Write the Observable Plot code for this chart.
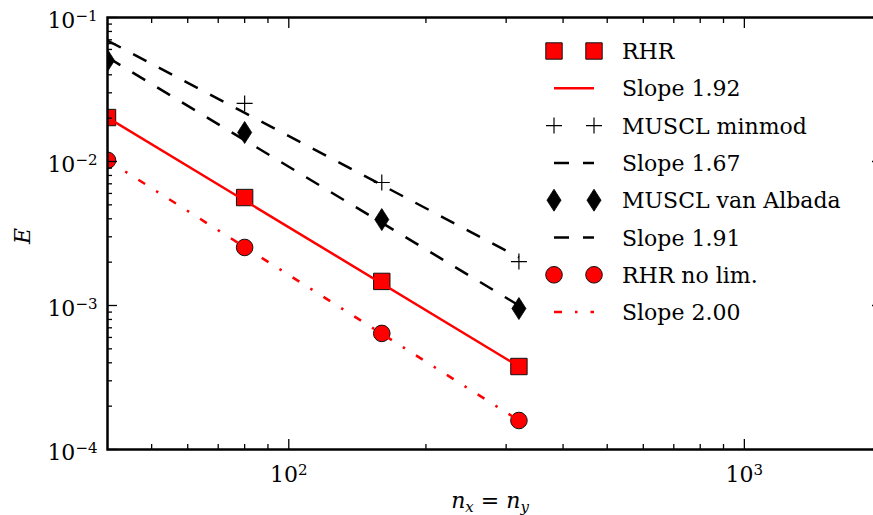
<!DOCTYPE html>
<html><head><meta charset="utf-8">
<script src="https://cdn.jsdelivr.net/npm/d3@7"></script>
<script src="https://cdn.jsdelivr.net/npm/@observablehq/plot@0.6"></script>
<style>body{margin:0;background:#fff}</style>
</head><body><div id="chart"></div>
<script>
// ---- data ----
const nx = [40, 80, 160, 320];
const rhr = [0.0202, 0.00562, 0.00147, 0.000377];
const minmod = [0.0659, 0.0253, 0.00715, 0.00202];
const vanAlbada = [0.0503, 0.0159, 0.00395, 0.000953];
const rhrNoLim = [0.0102, 0.00253, 0.00064, 0.000159];

const slopeX = [40, 320];
const slope192 = [0.0202, 0.000377];
const slope167 = [0.0692, 0.00216];
const slope191 = [0.0528, 0.00100];
const slope200 = [0.0102, 0.000159];

const xMajor = [100, 1000];
const xMajorExp = ["2", "3"];
const xMinor = [50, 60, 70, 80, 90, 200, 300, 400, 500, 600, 700, 800, 900, 2000];
const yMajor = [1e-4, 1e-3, 1e-2, 1e-1];
const yMajorExp = ["\u22124", "\u22123", "\u22122", "\u22121"];
const yMinor = [2e-4,3e-4,4e-4,5e-4,6e-4,7e-4,8e-4,9e-4,2e-3,3e-3,4e-3,5e-3,6e-3,7e-3,8e-3,9e-3,2e-2,3e-2,4e-2,5e-2,6e-2,7e-2,8e-2,9e-2];

const legendLabels = ["RHR","Slope 1.92","MUSCL minmod","Slope 1.67","MUSCL van Albada","Slope 1.91","RHR no lim.","Slope 2.00"];

// ---- symbols ----
const symSquare = {draw(c, s){ const r = Math.sqrt(s/Math.PI); c.rect(-r,-r,2*r,2*r); }};
const symCircle = {draw(c, s){ const r = Math.sqrt(s/Math.PI); c.moveTo(r,0); c.arc(0,0,r,0,2*Math.PI); }};
const symDiamond = {draw(c, s){ const r = Math.sqrt(s/Math.PI); const w = r*0.64; c.moveTo(0,-r); c.lineTo(w,0); c.lineTo(0,r); c.lineTo(-w,0); c.closePath(); }};
const symPlus = {draw(c, s){ const r = Math.sqrt(s/Math.PI); c.moveTo(-r,0); c.lineTo(r,0); c.moveTo(0,-r); c.lineTo(0,r); }};

const pts = (ys) => nx.map((x,i) => ({x, y: ys[i]}));
const seg = (ys) => slopeX.map((x,i) => ({x, y: ys[i]}));

const dash = "15,14";
const dashDot = "8,13,2.5,13";

const styles = [
  {kind:"m", sym:symSquare, r:8.2, fill:"#ff0000", stroke:"#111", sw:1},
  {kind:"l", stroke:"#ff0000", dash:null},
  {kind:"m", sym:symPlus, r:8, fill:"none", stroke:"#000", sw:1.2},
  {kind:"l", stroke:"#000", dash:dash},
  {kind:"m", sym:symDiamond, r:11, fill:"#000", stroke:"#000", sw:0.8},
  {kind:"l", stroke:"#000", dash:dash},
  {kind:"m", sym:symCircle, r:8.3, fill:"#ff0000", stroke:"#111", sw:1},
  {kind:"l", stroke:"#ff0000", dash:dashDot}
];

const dotMark = (data, st) => Plot.dot(data, {x:"x", y:"y", symbol: st.sym, r: st.r, fill: st.fill, stroke: st.stroke, strokeWidth: st.sw, clip: true});
const lineMark = (data, st) => Plot.line(data, {x:"x", y:"y", stroke: st.stroke, strokeWidth: 2.5, strokeDasharray: st.dash ?? undefined, strokeLinecap: "butt", clip: true});

const fontFamily = "DejaVu Serif";

const chart = Plot.plot({
  width: 873,
  height: 515,
  marginLeft: 107,
  marginRight: -8,
  marginTop: 17,
  marginBottom: 66,
  style: {fontSize: "22px", fontFamily: fontFamily, background: "#fff", color: "#000", overflow: "hidden"},
  x: {type: "log", domain: [40, 2000]},
  y: {type: "log", domain: [1e-4, 1e-1]},
  marks: [
    dotMark(pts(rhr), styles[0]),
    lineMark(seg(slope192), styles[1]),
    dotMark(pts(minmod), styles[2]),
    lineMark(seg(slope167), styles[3]),
    dotMark(pts(vanAlbada), styles[4]),
    lineMark(seg(slope191), styles[5]),
    dotMark(pts(rhrNoLim), styles[6]),
    lineMark(seg(slope200), styles[7]),
    // inward ticks
    Plot.axisX(xMajor, {anchor: "bottom", tickSize: -10, fill: "none", strokeWidth: 1.3}),
    Plot.axisX(xMinor, {anchor: "bottom", tickSize: -5, fill: "none", strokeWidth: 1.3}),
    Plot.axisX(xMajor, {anchor: "top", tickSize: -10, fill: "none", strokeWidth: 1.3}),
    Plot.axisX(xMinor, {anchor: "top", tickSize: -5, fill: "none", strokeWidth: 1.3}),
    Plot.axisY(yMajor, {anchor: "left", tickSize: -10, fill: "none", strokeWidth: 1.3}),
    Plot.axisY(yMinor, {anchor: "left", tickSize: -5, fill: "none", strokeWidth: 1.3}),
    Plot.axisY(yMajor, {anchor: "right", tickSize: -10, fill: "none", strokeWidth: 1.3}),
    Plot.axisY(yMinor, {anchor: "right", tickSize: -5, fill: "none", strokeWidth: 1.3}),
    // tick labels
    Plot.text(yMajor, {y: d => d, frameAnchor: "left", dx: -10, dy: 3, textAnchor: "end", lineAnchor: "middle",
      text: (d, i) => "10|" + yMajorExp[i], fill: "#000"}),
    Plot.text(xMajor, {x: d => d, frameAnchor: "bottom", dy: 25, textAnchor: "middle", lineAnchor: "middle",
      text: (d, i) => "10|" + xMajorExp[i], fill: "#000"}),
    Plot.frame({stroke: "#000", strokeWidth: 2.5})
  ]
});

const svg = d3.select(chart);
// superscripts on tick labels
svg.selectAll("text").each(function() {
  const t = d3.select(this);
  const s = t.text();
  if (!s.includes("|")) return;
  const [base, exp] = s.split("|");
  t.text(base);
  t.append("tspan").attr("dy", "-0.45em").style("font-size", "15px").text(exp);
});

// axis titles
const xl = svg.append("text").attr("x", 490).attr("y", 508).attr("text-anchor", "middle")
  .style("font-size", "22px").attr("fill", "#000");
xl.append("tspan").style("font-style", "italic").text("n");
xl.append("tspan").style("font-style", "italic").style("font-size", "15px").attr("dy", 4).text("x");
xl.append("tspan").attr("dy", -4).text(" = ");
xl.append("tspan").style("font-style", "italic").text("n");
xl.append("tspan").style("font-style", "italic").style("font-size", "15px").attr("dy", 4).text("y");

svg.append("text").attr("transform", "translate(30,236) rotate(-90)").attr("text-anchor", "middle")
  .style("font-size", "22px").style("font-style", "italic").attr("fill", "#000").text("E");

// legend
const lg = svg.append("g").attr("text-anchor", "start");
const row0 = 51, rowH = 37.3, hx0 = 554, hx1 = 594, tx = 622;
legendLabels.forEach((lab, i) => {
  const st = styles[i];
  const y = row0 + i * rowH;
  if (st.kind === "m") {
    const p = d3.symbol(st.sym, Math.PI * st.r * st.r)();
    [hx0, hx1].forEach(x => lg.append("path").attr("d", p).attr("transform", `translate(${x},${y})`)
      .attr("fill", st.fill).attr("stroke", st.stroke).attr("stroke-width", st.sw));
  } else {
    lg.append("line").attr("x1", hx0).attr("x2", hx1).attr("y1", y).attr("y2", y)
      .attr("stroke", st.stroke).attr("stroke-width", 2.5)
      .attr("stroke-dasharray", st.dash ?? null);
  }
  lg.append("text").attr("x", tx).attr("y", y + 8).attr("fill", "#000").attr("text-anchor", "start")
    .style("font-size", "22px").text(lab);
});

svg.selectAll("text, tspan").style("font-family", fontFamily);

document.getElementById("chart").append(chart);
</script>
</body></html>
